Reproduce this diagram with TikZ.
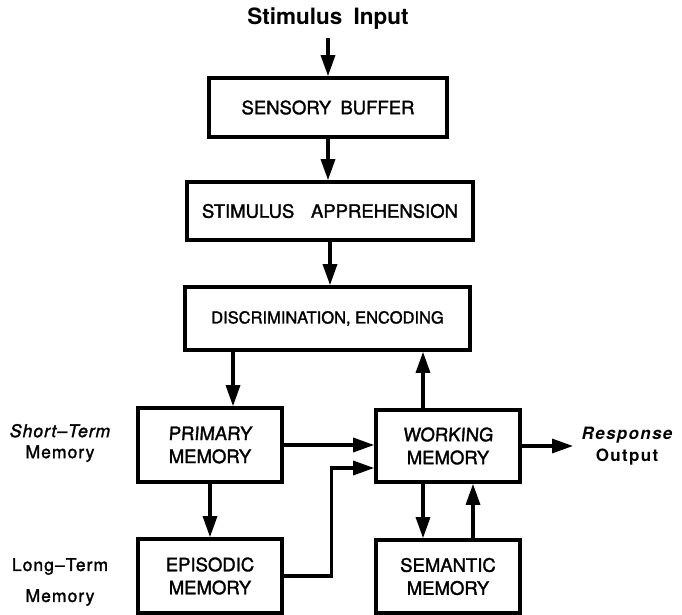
\documentclass[tikz,border=0pt]{standalone}
\usepackage{fontspec}
\setmainfont{TeX Gyre Heros}
\usetikzlibrary{arrows.meta}
\newcommand{\slantline}[1]{{\addfontfeature{FakeSlant=0.07}#1}}
\tikzset{
  box/.style={draw, line width=3.6pt, minimum width=#1, inner sep=0pt, align=center,
              font=\fontsize{18.5}{23}\selectfont\addfontfeature{FakeBold=1.6}},
  arr/.style={line width=3.2pt, -{Triangle[length=21pt,width=14pt]}},
  lbl/.style={inner sep=0pt, align=center, font=\fontsize{17.5}{21}\selectfont\addfontfeature{LetterSpace=6,FakeBold=1.6}},
}
\begin{document}
\begin{tikzpicture}[x=1pt,y=-1pt]
  \useasboundingbox (0,0) rectangle (682,615);

  % input label and processing chain
  \node[inner sep=0pt, font=\bfseries\fontsize{22.5}{26}\selectfont] (stim) at (328,19) {Stimulus\hspace{0.5em}Input};
  \node[box=238pt, minimum height=59pt] (sens) at (328,107.5) {SENSORY\hspace{0.5em}BUFFER};
  \node[box=286pt, minimum height=58pt] (appr) at (330,211) {STIMULUS\hspace{0.9em}APPREHENSION};
  \node[box=285pt, minimum height=63pt, font=\fontsize{16.5}{20}\selectfont\addfontfeature{FakeBold=1.6}] (disc) at (327.5,318.5) {DISCRIMINATION, ENCODING};

  % memory stores
  \node[box=144pt, minimum height=74pt] (prim) at (210,445) {\slantline{PRIMARY}\\MEMORY};
  \node[box=144pt, minimum height=72pt] (work) at (448,446) {\slantline{WORKING}\\MEMORY};
  \node[box=144pt, minimum height=74pt] (epi)  at (210,576) {EPISODIC\\MEMORY};
  \node[box=144pt, minimum height=73pt] (sem)  at (448,576.5) {SEMANTIC\\MEMORY};

  % side labels
  \node[lbl] (stm) at (60,443) {\itshape Short–Term\\Memory};
  \node[lbl, font=\fontsize{17.5}{31}\selectfont\addfontfeature{LetterSpace=6,FakeBold=1.6}] (ltm) at (60,582) {Long–Term\\Memory};
  \node[inner sep=0pt, align=center, font=\bfseries\fontsize{17}{22}\selectfont\addfontfeature{LetterSpace=8}] (resp) at (627,446) {\itshape Response\\Output};
  \coordinate (respin) at (573,446);

  % connectors
  \draw[arr] ([yshift=-8pt]stim.south) -- (sens.north);
  \draw[arr] (sens.south) -- (sens.south |- appr.north);
  \draw[arr] (appr.south) -- (appr.south |- disc.north);
  \draw[arr] ([xshift=23pt]prim.north |- disc.south) -- ([xshift=23pt]prim.north);
  \draw[arr] ([xshift=-25pt]work.north) -- ([xshift=-25pt]work.north |- disc.south);
  \draw[arr] (prim.east) -- (prim.east -| work.west);
  \draw[arr] (prim.south) -- (epi.north);
  \draw[arr] (epi.east) -- ++(48,0) |- ([yshift=-22pt]work.west);
  \draw[arr] ([xshift=-25pt]work.south) -- ([xshift=-25pt]sem.north);
  \draw[arr] ([xshift=25pt]sem.north) -- ([xshift=25pt]work.south);
  \draw[arr] (work.east) -- (respin);
\end{tikzpicture}
\end{document}
